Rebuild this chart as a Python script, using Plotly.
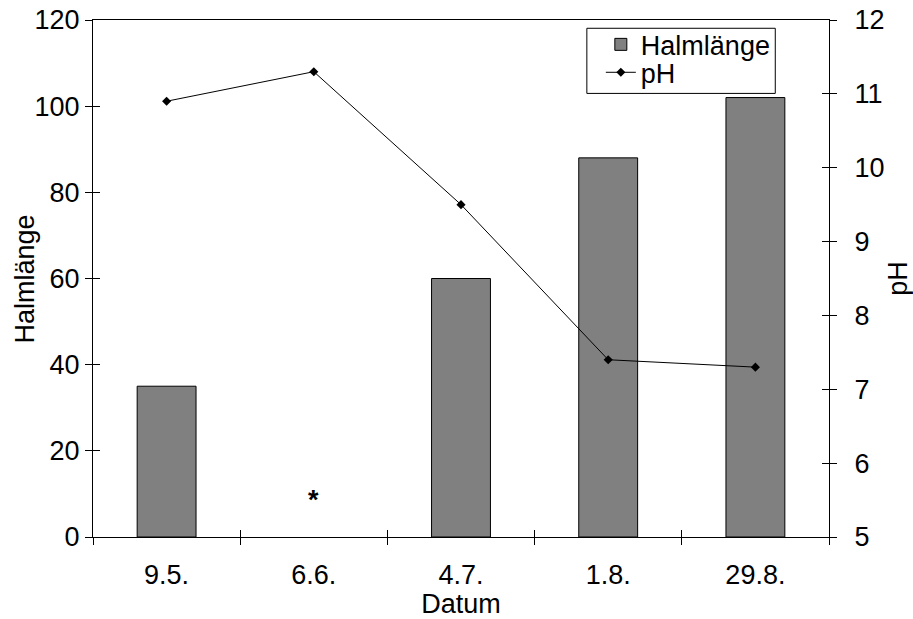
import plotly.graph_objects as go

categories = ["9.5.", "6.6.", "4.7.", "1.8.", "29.8."]
halmlaenge = [35, None, 60, 88, 102]
ph = [10.9, 11.3, 9.5, 7.4, 7.3]

FONT = "Liberation Sans, Arial, sans-serif"
FS = 27

fig = go.Figure()
fig.add_trace(go.Bar(
    x=categories, y=halmlaenge, name="Halmlänge",
    marker=dict(color="#808080", line=dict(color="black", width=1)),
    width=0.4, yaxis="y", xaxis="x", legend="legend",
))
fig.add_trace(go.Scatter(
    x=categories, y=ph, name="pH", mode="lines+markers",
    line=dict(color="black", width=1),
    marker=dict(symbol="diamond", size=7, color="black"),
    yaxis="y2", xaxis="x", legend="legend2",
))
# invisible helper traces for the inner half of the cross ticks
fig.add_trace(go.Scatter(x=categories, y=[0]*5, xaxis="x2", yaxis="y3",
                         mode="markers", marker=dict(opacity=0),
                         showlegend=False, hoverinfo="skip"))
fig.add_trace(go.Scatter(x=categories, y=[5]*5, xaxis="x2", yaxis="y4",
                         mode="markers", marker=dict(opacity=0),
                         showlegend=False, hoverinfo="skip"))

fig.add_annotation(x="6.6.", y=8.5, xref="x", yref="y", text="<b>*</b>",
                   showarrow=False, font=dict(size=FS, color="black", family=FONT))
# left axis title
fig.add_annotation(x=-0.0924, y=0.5, xref="paper", yref="paper", text="Halmlänge",
                   textangle=-90, showarrow=False, xanchor="center", yanchor="middle",
                   font=dict(size=FS, color="black", family=FONT))

# legend frame
fig.add_shape(type="rect", xref="paper", yref="paper",
              x0=0.671, x1=0.927, y0=0.858, y1=0.984,
              line=dict(color="black", width=1), fillcolor="white", layer="above")

tickfont = dict(size=FS, color="black", family=FONT)
fig.update_layout(
    width=913, height=619,
    margin=dict(l=93, r=84, t=20, b=82, autoexpand=False),
    paper_bgcolor="white", plot_bgcolor="white",
    font=dict(family=FONT, size=FS, color="black"),
    xaxis=dict(
        type="category", categoryarray=categories, range=[-0.5, 4.5],
        tickson="boundaries", ticks="outside", ticklen=7, tickwidth=1, tickcolor="black",
        showline=True, linecolor="black", linewidth=1, mirror=True,
        showgrid=False, tickfont=tickfont, automargin=False, ticklabelstandoff=14,
        title=dict(text="Datum", font=dict(size=FS, family=FONT), standoff=21),
    ),
    xaxis2=dict(
        type="category", categoryarray=categories, range=[-0.5, 4.5],
        overlaying="x", anchor="y3", side="bottom",
        tickson="boundaries", ticks="inside", ticklen=7, tickwidth=1, tickcolor="black",
        showticklabels=False, showgrid=False, showline=False, zeroline=False,
        automargin=False,
    ),
    yaxis=dict(
        range=[0, 120], dtick=20, ticks="outside", ticklen=7, tickwidth=1, tickcolor="black",
        showline=True, linecolor="black", linewidth=1, showgrid=False, zeroline=False,
        tickfont=tickfont, automargin=False,
    ),
    yaxis2=dict(
        range=[5, 12], dtick=1, overlaying="y", side="right", anchor="x",
        ticks="outside", ticklen=7, tickwidth=1, tickcolor="black",
        showline=True, linecolor="black", linewidth=1, showgrid=False, zeroline=False,
        tickfont=tickfont, automargin=False, ticklabelstandoff=12,
        title=dict(text="pH", font=dict(size=FS, family=FONT), standoff=26),
    ),
    yaxis3=dict(
        range=[0, 120], dtick=20, overlaying="y", side="left", anchor="x2",
        ticks="inside", ticklen=7, tickwidth=1, tickcolor="black",
        showticklabels=False, showgrid=False, showline=False, zeroline=False,
        automargin=False,
    ),
    yaxis4=dict(
        range=[5, 12], dtick=1, overlaying="y", side="right", anchor="x2",
        ticks="inside", ticklen=7, tickwidth=1, tickcolor="black",
        showticklabels=False, showgrid=False, showline=False, zeroline=False,
        automargin=False,
    ),
    legend=dict(
        x=0.690, y=0.952, xanchor="left", yanchor="middle",
        bgcolor="rgba(0,0,0,0)", borderwidth=0,
        font=dict(size=FS, family=FONT, color="black"), itemwidth=30,
    ),
    legend2=dict(
        x=0.690, y=0.898, xanchor="left", yanchor="middle",
        bgcolor="rgba(0,0,0,0)", borderwidth=0,
        font=dict(size=FS, family=FONT, color="black"), itemwidth=30,
    ),
    showlegend=True,
)

fig.write_html("out.html", config={"displayModeBar": False},
               post_script="document.body.style.margin='0px';")
